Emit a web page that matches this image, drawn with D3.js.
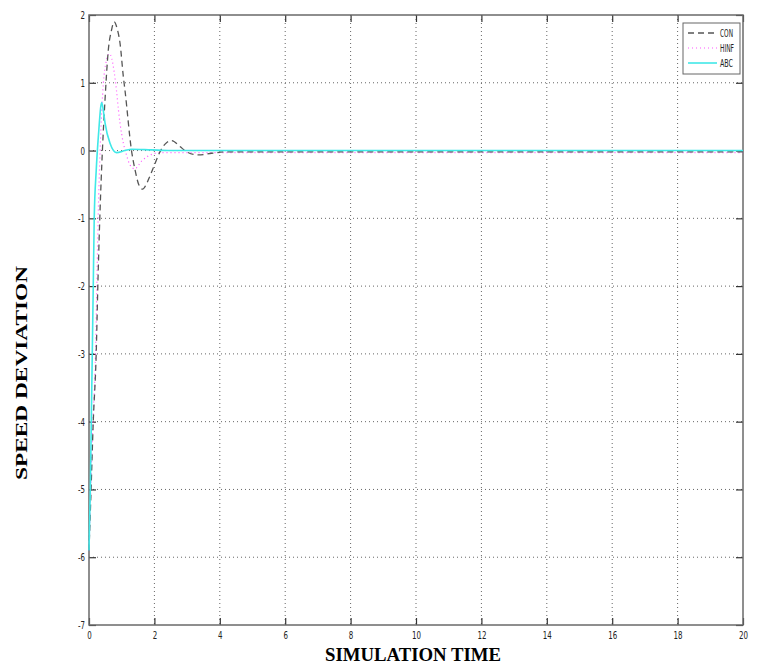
<!DOCTYPE html>
<html>
<head>
<meta charset="utf-8">
<script src="https://cdn.jsdelivr.net/npm/d3@7"></script>
<style>
  html, body { margin: 0; padding: 0; background: #fff; }
  svg { display: block; }
</style>
</head>
<body>
<svg id="chart" width="764" height="666"></svg>
<script>
// ---- data ----
const xTicks = [0, 2, 4, 6, 8, 10, 12, 14, 16, 18, 20];
const yTicks = [2, 1, 0, -1, -2, -3, -4, -5, -6, -7];
const seriesNames = ["CON", "HINF", "ABC"];

const conT = [0, 0.05, 0.13, 0.22, 0.27, 0.33, 0.41, 0.49, 0.59, 0.69, 0.77, 0.86, 0.95, 1.05, 1.1, 1.3, 1.41, 1.52, 1.64, 1.75, 1.86, 2.02, 2.17, 2.38, 2.53, 2.78, 2.99, 3.34, 3.75, 4.16, 5, 20];
const conV = [-5.9, -5.2, -4.0, -3.0, -2.0, -1.0, 0.0, 0.75, 1.48, 1.78, 1.9, 1.8, 1.58, 1.09, 0.89, 0.0, -0.29, -0.5, -0.57, -0.5, -0.38, -0.19, -0.02, 0.12, 0.146, 0.06, -0.02, -0.065, -0.04, -0.02, -0.02, -0.02];

const hinfT = [0, 0.12, 0.2, 0.24, 0.28, 0.34, 0.44, 0.52, 0.62, 0.7, 0.77, 0.84, 0.9, 0.95, 1.05, 1.15, 1.25, 1.4, 1.6, 1.9, 2.2, 20];
const hinfV = [-5.9, -4.0, -3.0, -2.0, -1.0, 0.0, 1.0, 1.3, 1.43, 1.35, 1.16, 0.89, 0.6, 0.4, 0.11, -0.07, -0.21, -0.27, -0.16, -0.06, -0.03, -0.03];

const abcT = [0, 0.04, 0.07, 0.1, 0.13, 0.16, 0.22, 0.3, 0.36, 0.39, 0.45, 0.49, 0.64, 0.84, 1.1, 1.3, 1.9, 2.5, 20];
const abcV = [-5.9, -5.0, -4.0, -3.0, -2.0, -1.0, -0.3, 0.3, 0.65, 0.71, 0.55, 0.41, 0.11, -0.03, 0.0, 0.02, 0.01, 0.0, 0.0];

// ---- layout ----
const svg = d3.select("#chart");
const L = 89, R = 743, T = 15, B = 625;
const x = d3.scaleLinear().domain([0, 20]).range([L, R]);
const y = d3.scaleLinear().domain([-7, 2]).range([B, T]);

const tickFont = "'Liberation Sans Narrow', 'DejaVu Sans Condensed', 'Liberation Sans', sans-serif";

// grid
const grid = svg.append("g");
grid.selectAll("line.vx").data(xTicks.slice(1, -1)).enter().append("line")
  .attr("x1", d => x(d)).attr("x2", d => x(d)).attr("y1", T).attr("y2", B)
  .attr("stroke", "#666").attr("stroke-width", 1).attr("stroke-dasharray", "1,3");
grid.selectAll("line.hy").data(yTicks.slice(1, -1)).enter().append("line")
  .attr("y1", d => y(d)).attr("y2", d => y(d)).attr("x1", L).attr("x2", R)
  .attr("stroke", "#666").attr("stroke-width", 1).attr("stroke-dasharray", "1,3");

// axes with inward ticks
const tl = 7;
const axB = svg.append("g").attr("transform", `translate(0,${B})`)
  .call(d3.axisBottom(x).tickValues(xTicks).tickSizeInner(-tl).tickSizeOuter(0).tickPadding(6).tickFormat(d3.format("d")));
const axT = svg.append("g").attr("transform", `translate(0,${T})`)
  .call(d3.axisTop(x).tickValues(xTicks).tickSizeInner(-tl).tickSizeOuter(0).tickFormat(""));
const axLft = svg.append("g").attr("transform", `translate(${L},0)`)
  .call(d3.axisLeft(y).tickValues(yTicks).tickSizeInner(-tl).tickSizeOuter(0).tickPadding(4).tickFormat(d => String(d)));
const axRt = svg.append("g").attr("transform", `translate(${R},0)`)
  .call(d3.axisRight(y).tickValues(yTicks).tickSizeInner(-tl).tickSizeOuter(0).tickFormat(""));
[axB, axT, axLft, axRt].forEach(a => {
  a.select(".domain").remove();
  a.selectAll(".tick line").attr("stroke", "#333").attr("stroke-width", 1.2);
  a.selectAll(".tick text").attr("font-family", tickFont).attr("font-size", 11).attr("fill", "#222");
});
axLft.selectAll(".tick text").each(function () {
  const t = d3.select(this);
  const len = t.text().length;
  t.attr("textLength", len > 1 ? 7 : 4.5).attr("lengthAdjust", "spacingAndGlyphs");
});
axB.selectAll(".tick text").each(function () {
  const t = d3.select(this);
  const len = t.text().length;
  t.attr("textLength", len > 1 ? 9 : 4.5).attr("lengthAdjust", "spacingAndGlyphs");
});

// box
svg.append("rect").attr("x", L).attr("y", T).attr("width", R - L).attr("height", B - T)
  .attr("fill", "none").attr("stroke", "#6a6a6a").attr("stroke-width", 1.5);

// lines
const line = d3.line().x(d => x(d[0])).y(d => y(d[1])).curve(d3.curveMonotoneX);
const zip = (a, b) => a.map((t, i) => [t, b[i]]);
const g = svg.append("g");
g.append("path").datum(zip(hinfT, hinfV)).attr("d", line)
  .attr("fill", "none").attr("stroke", "#ff55ff").attr("stroke-width", 1.2).attr("stroke-dasharray", "1,3");
g.append("path").datum(zip(conT, conV)).attr("d", line)
  .attr("fill", "none").attr("stroke", "#555").attr("stroke-width", 1.3).attr("stroke-dasharray", "6,4");
g.append("path").datum(zip(abcT, abcV)).attr("d", line)
  .attr("fill", "none").attr("stroke", "#40e8e8").attr("stroke-width", 1.6);

// legend
const lg = svg.append("g");
lg.append("rect").attr("x", 683).attr("y", 23).attr("width", 57).attr("height", 51)
  .attr("fill", "#fff").attr("stroke", "#666").attr("stroke-width", 1);
const legStyles = [
  { c: "#555", w: 1.3, dash: "6,4", len: 13 },
  { c: "#ff55ff", w: 1.2, dash: "1,3", len: 14 },
  { c: "#40e8e8", w: 1.6, dash: null, len: 13 }
];
seriesNames.forEach((n, i) => {
  const yy = 33 + i * 15;
  lg.append("line").attr("x1", 688).attr("x2", 717).attr("y1", yy).attr("y2", yy)
    .attr("stroke", legStyles[i].c).attr("stroke-width", legStyles[i].w)
    .attr("stroke-dasharray", legStyles[i].dash);
  lg.append("text").attr("x", 720).attr("y", yy + 4).text(n)
    .attr("font-family", tickFont).attr("font-size", 11).attr("fill", "#222")
    .attr("textLength", legStyles[i].len).attr("lengthAdjust", "spacingAndGlyphs");
});

// axis labels
svg.append("text").attr("x", 413).attr("y", 661).attr("text-anchor", "middle")
  .attr("font-family", "'Liberation Serif', 'Times New Roman', serif").attr("font-weight", "bold")
  .attr("font-size", 18).attr("textLength", 176).attr("lengthAdjust", "spacingAndGlyphs")
  .text("SIMULATION TIME");
svg.append("text").attr("transform", "translate(27,373) rotate(-90)").attr("text-anchor", "middle")
  .attr("font-family", "'Liberation Serif', 'Times New Roman', serif").attr("font-weight", "bold")
  .attr("font-size", 16).attr("textLength", 214).attr("lengthAdjust", "spacingAndGlyphs")
  .text("SPEED DEVIATION");
</script>
</body>
</html>
